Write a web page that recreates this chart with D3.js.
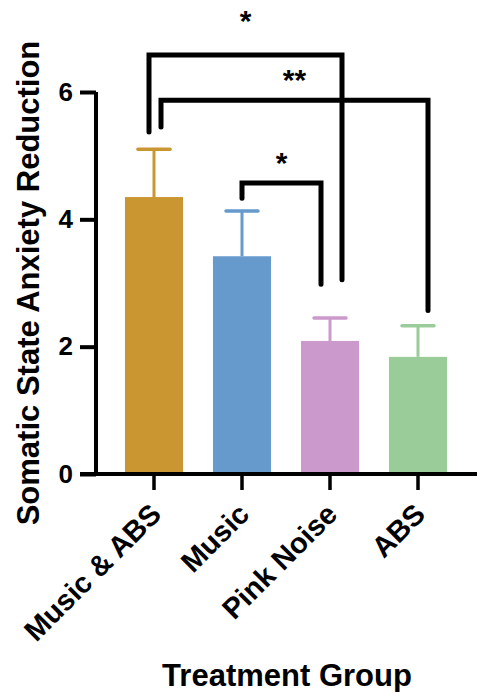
<!DOCTYPE html>
<html><head><meta charset="utf-8">
<script src="https://cdn.jsdelivr.net/npm/d3@7"></script>
<style>body{margin:0;background:#fff}svg{display:block}text{font-family:"Liberation Sans",Arial,sans-serif;font-weight:bold}</style>
</head><body>
<script>
const categories = ["Music & ABS", "Music", "Pink Noise", "ABS"];
const means = [4.35, 3.42, 2.09, 1.84];
const errors = [0.75, 0.71, 0.36, 0.49];
const colors = ["#CA9632", "#6699CC", "#CC99CC", "#99CC99"];
const yTicks = [0, 2, 4, 6];
// comparisons: [from index, to index, label, bracket top value, left leg bottom value, right leg bottom value]
const comparisons = [
  {a: 0, b: 2, label: "*", top: 6.58, leftEnd: 5.37, rightEnd: 3.05},
  {a: 0, b: 3, label: "**", top: 5.87, leftEnd: 5.45, rightEnd: 2.57},
  {a: 1, b: 2, label: "*", top: 4.57, leftEnd: 4.33, rightEnd: 2.98}
];

const W = 477, H = 692;
const svg = d3.select("body").append("svg").attr("width", W).attr("height", H);

const x = d3.scaleBand().domain(categories).range([110, 462]).paddingInner(0.34).paddingOuter(0.17);
const y = d3.scaleLinear().domain([0, 6]).range([474, 92]);

// bars
svg.selectAll("rect.bar").data(categories).enter().append("rect")
  .attr("x", d => x(d)).attr("width", x.bandwidth())
  .attr("y", (d, i) => y(means[i])).attr("height", (d, i) => y(0) - y(means[i]))
  .attr("fill", (d, i) => colors[i]);

// error bars
const capW = 32;
categories.forEach((c, i) => {
  const cx = x(c) + x.bandwidth() / 2;
  svg.append("line").attr("x1", cx).attr("x2", cx).attr("y1", y(means[i])).attr("y2", y(means[i] + errors[i]))
    .attr("stroke", colors[i]).attr("stroke-width", 3);
  svg.append("line").attr("x1", cx - capW / 2).attr("x2", cx + capW / 2).attr("y1", y(means[i] + errors[i])).attr("y2", y(means[i] + errors[i]))
    .attr("stroke", colors[i]).attr("stroke-width", 3.5).attr("stroke-linecap", "round");
});

// y axis
const yAxis = svg.append("g").attr("transform", "translate(96,0)")
  .call(d3.axisLeft(y).tickValues(yTicks).tickSize(16).tickPadding(7).tickFormat(d3.format("d")));
yAxis.select(".domain").attr("stroke-width", 4).attr("d", `M0,${y(6)}V${y(0)}`);
yAxis.selectAll(".tick line").attr("stroke-width", 4);
yAxis.selectAll(".tick text").attr("font-size", 26).attr("font-weight", "bold").attr("fill", "#000")
  .attr("font-family", "Liberation Sans, Arial, sans-serif");

// x axis
const xAxis = svg.append("g").attr("transform", `translate(0,${y(0)})`)
  .call(d3.axisBottom(x).tickSize(16).tickFormat(""));
xAxis.select(".domain").attr("stroke-width", 4).attr("d", "M80,0H477");
xAxis.selectAll(".tick line").attr("stroke-width", 3.5);

// rotated x labels
svg.selectAll("text.xl").data(categories).enter().append("text")
  .attr("class", "xl")
  .attr("transform", d => `translate(${x(d) + x.bandwidth() / 2 + 9},${y(0) + 42}) rotate(-45)`)
  .attr("text-anchor", "end").attr("font-size", 29).attr("fill", "#000")
  .text(d => d);

// axis titles
svg.append("text").attr("transform", `translate(39,283) rotate(-90)`)
  .attr("text-anchor", "middle").attr("font-size", 31).text("Somatic State Anxiety Reduction");
svg.append("text").attr("x", 287).attr("y", 686).attr("text-anchor", "middle").attr("font-size", 31).text("Treatment Group");

// significance brackets
const legOffset = [[-5, 12], [7, 10], [0, -9]];
const labelLift = [24, 10, 10];
comparisons.forEach((c, k) => {
  const x1 = x(categories[c.a]) + x.bandwidth() / 2 + legOffset[k][0];
  const x2 = x(categories[c.b]) + x.bandwidth() / 2 + legOffset[k][1];
  svg.append("path")
    .attr("d", `M${x1},${y(c.leftEnd)}V${y(c.top)}H${x2}V${y(c.rightEnd)}`)
    .attr("fill", "none").attr("stroke", "#000").attr("stroke-width", 5)
    .attr("stroke-linecap", "round").attr("stroke-linejoin", "miter");
  svg.append("text").attr("x", (x1 + x2) / 2).attr("y", y(c.top) - labelLift[k])
    .attr("text-anchor", "middle").attr("font-size", 30).text(c.label);
});
</script>
</body></html>
